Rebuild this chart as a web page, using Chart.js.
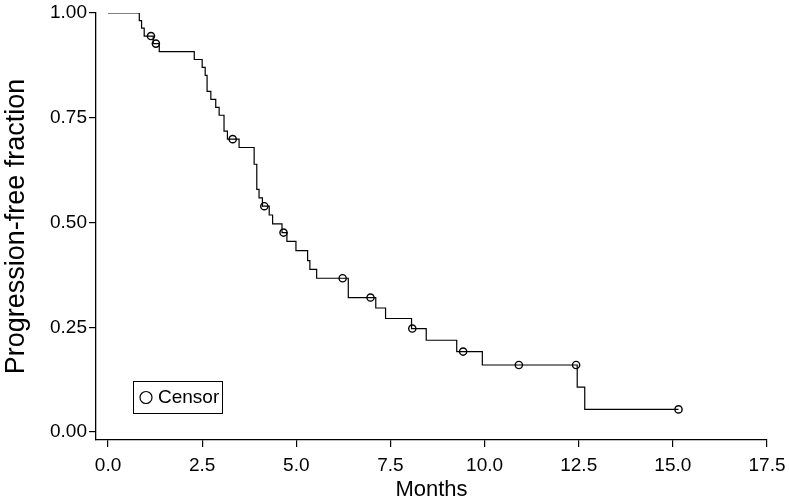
<!DOCTYPE html>
<html>
<head>
<meta charset="utf-8">
<script src="https://cdn.jsdelivr.net/npm/chart.js@4/dist/chart.umd.min.js"></script>
<style>
  html, body { margin: 0; padding: 0; background: #fff; }
  #wrap { width: 789px; height: 503px; position: relative; }
</style>
</head>
<body>
<div id="wrap"><canvas id="grafico" width="789" height="503"></canvas></div>
<script>
// Kaplan-Meier: tempos de evento (meses) e sobrevida logo apos cada evento
var eventTimes = [0.83, 0.89, 0.96, 1.20, 1.36, 2.29, 2.50, 2.58, 2.63, 2.73, 2.86, 2.95, 3.08, 3.17, 3.48,
                  3.88, 3.95, 4.01, 4.10, 4.28, 4.37, 4.62, 4.75, 4.99, 5.30, 5.36, 5.54, 6.38, 7.11, 7.37,
                  8.06, 8.45, 9.26, 9.94, 12.46, 12.66];
var survival = [0.982, 0.964, 0.945, 0.927, 0.908, 0.889, 0.870, 0.851, 0.813, 0.794, 0.775, 0.756, 0.718, 0.699, 0.679,
                0.639, 0.579, 0.559, 0.539, 0.518, 0.497, 0.476, 0.455, 0.433, 0.409, 0.388, 0.367, 0.321, 0.296, 0.271,
                0.247, 0.219, 0.192, 0.160, 0.107, 0.054];
// observacoes censuradas
var censorTimes = [1.14, 1.27, 3.31, 4.15, 4.66, 6.23, 6.97, 8.08, 9.43, 10.91, 12.43, 15.15];
var censorSurv = [0.945, 0.927, 0.699, 0.539, 0.476, 0.367, 0.321, 0.247, 0.192, 0.160, 0.160, 0.054];
var lastFollowUp = 15.15;

var xTicks = [0, 2.5, 5, 7.5, 10, 12.5, 15, 17.5];
var yTicks = [0, 0.25, 0.5, 0.75, 1];
var xTitle = 'Months';
var yTitle = 'Progression-free fraction';
var legendLabel = 'Censor';

// monta a curva em degraus
var curva = [{ x: 0, y: 1 }];
for (var i = 0; i < eventTimes.length; i++) {
    curva.push({ x: eventTimes[i], y: survival[i] });
}
curva.push({ x: lastFollowUp, y: survival[survival.length - 1] });

var censuras = censorTimes.map(function (t, i) { return { x: t, y: censorSurv[i] }; });

var fonte = "'Liberation Sans', Arial, sans-serif";

// legenda dentro da area do grafico
var legendaInterna = {
    id: 'legendaInterna',
    afterDraw: function (chart) {
        var ctx = chart.ctx;
        ctx.save();
        ctx.strokeStyle = '#000';
        ctx.lineWidth = 1;
        ctx.fillStyle = '#fff';
        ctx.fillRect(133.5, 381.5, 89, 32);
        ctx.strokeRect(133.5, 381.5, 89, 32);
        ctx.beginPath();
        ctx.arc(146, 397.5, 6, 0, Math.PI * 2);
        ctx.lineWidth = 1.2;
        ctx.stroke();
        ctx.fillStyle = '#000';
        ctx.font = '19px ' + fonte;
        ctx.textBaseline = 'middle';
        ctx.fillText(legendLabel, 158, 398);
        ctx.restore();
    }
};

var ctx = document.getElementById('grafico').getContext('2d');
var myChart = new Chart(ctx, {
    type: 'line',
    data: {
        datasets: [{
            label: 'KM',
            data: curva,
            stepped: 'before',
            borderColor: '#000',
            borderWidth: 1.2,
            pointRadius: 0,
            fill: false
        }, {
            label: legendLabel,
            type: 'scatter',
            data: censuras,
            showLine: false,
            pointStyle: 'circle',
            pointRadius: 3.6,
            pointBorderWidth: 1.4,
            pointBorderColor: '#000',
            pointBackgroundColor: 'rgba(0,0,0,0)'
        }]
    },
    options: {
        responsive: false,
        animation: false,
        layout: { padding: { left: 0, right: 22, top: 13, bottom: 0 } },
        plugins: {
            legend: { display: false },
            tooltip: { enabled: false }
        },
        scales: {
            x: {
                type: 'linear',
                min: -0.32,
                max: 17.5,
                afterBuildTicks: function (s) { s.ticks = xTicks.map(function (v) { return { value: v }; }); },
                afterFit: function (s) { s.height = 63; s.paddingLeft = 0; s.paddingRight = 0; },
                grid: { drawOnChartArea: false, drawTicks: true, tickLength: 7, color: '#000', lineWidth: 1.2 },
                border: { display: true, color: '#000', width: 1.3 },
                ticks: {
                    color: '#000',
                    font: { size: 19, family: fonte },
                    padding: 7,
                    maxRotation: 0,
                    callback: function (v) { return Number(v).toFixed(1); }
                },
                title: {
                    display: true,
                    text: xTitle,
                    color: '#000',
                    font: { size: 22, family: fonte },
                    padding: { top: 0, bottom: 0 }
                }
            },
            y: {
                type: 'linear',
                min: -0.019,
                max: 1,
                afterBuildTicks: function (s) { s.ticks = yTicks.map(function (v) { return { value: v }; }); },
                afterFit: function (s) { s.width = 96; s.paddingTop = 0; s.paddingBottom = 0; },
                grid: { drawOnChartArea: false, drawTicks: true, tickLength: 7, color: '#000', lineWidth: 1.2 },
                border: { display: true, color: '#000', width: 1.3 },
                ticks: {
                    color: '#000',
                    font: { size: 19, family: fonte },
                    padding: 2,
                    callback: function (v) { return Number(v).toFixed(2); }
                },
                title: {
                    display: true,
                    text: yTitle,
                    color: '#000',
                    font: { size: 27, family: fonte },
                    padding: { top: 0, bottom: 2 }
                }
            }
        }
    },
    plugins: [legendaInterna]
});
</script>
</body>
</html>
